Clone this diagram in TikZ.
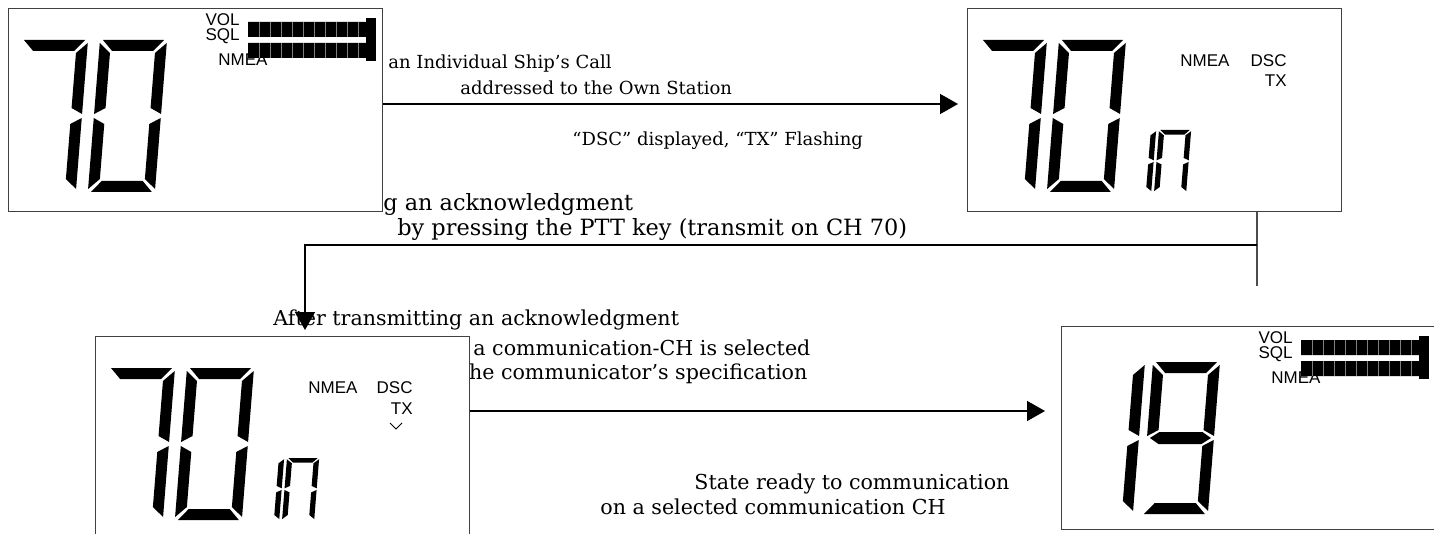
\documentclass[tikz,border=0pt]{standalone}
\usepackage{fontspec}
\setmainfont{DejaVu Serif}
\newfontfamily\lcdfont{Liberation Sans}
\usetikzlibrary{arrows.meta,positioning,calc}

% segments of one LCD digit, 67 x 152 units, y downwards
\newcommand{\segA}{\fill (3,0)--(64,0)--(54,11)--(13,11)--cycle;}
\newcommand{\segB}{\fill (67,3)--(67,74)--(56,68)--(56,13)--cycle;}
\newcommand{\segC}{\fill (67,78)--(67,149)--(56,139)--(56,84)--cycle;}
\newcommand{\segD}{\fill (3,152)--(13,141)--(54,141)--(64,152)--cycle;}
\newcommand{\segE}{\fill (0,78)--(11,84)--(11,139)--(0,149)--cycle;}
\newcommand{\segF}{\fill (0,3)--(11,13)--(11,68)--(0,74)--cycle;}
\newcommand{\segG}{\fill (3,76)--(12,70)--(55,70)--(64,76)--(55,82)--(12,82)--cycle;}
\newcommand{\lcddigit}[3][]{\begin{scope}[shift={#2},xslant=0.08,#1]#3\end{scope}}

% VOL / SQL level bars of a panel
\newcommand{\lcdbars}[1]{%
  \node[lcd,anchor=east] (#1vol) at (232,11.5) {VOL};
  \node[lcd,anchor=east] (#1sql) at (232,28.5) {SQL};
  \node[lcd,anchor=west] (#1nmea) at (210,52) {NMEA};
  \fill (240,14) rectangle (360,29) (240,35) rectangle (360,50);
  \fill (358,10) rectangle (368,53);
  \foreach \x in {251,262,...,350} {\draw[cell] (\x,14)--(\x,29) (\x,35)--(\x,50);}
}

\begin{document}
\begin{tikzpicture}[x=0.5pt,y=-0.5pt,>={Triangle[length=9pt,width=10pt]},
  panel/.style={draw=black!75,fill=white,line width=0.6pt,minimum width=187pt,minimum height=101.5pt,inner sep=0pt,anchor=north west},
  note/.style={font=\fontsize{9}{11}\selectfont,inner sep=0pt,anchor=base west},
  bignote/.style={note,font=\fontsize{11.2}{13}\selectfont},
  midnote/.style={note,font=\fontsize{10.3}{12}\selectfont},
  lcd/.style={font=\lcdfont\fontsize{8.5}{10}\selectfont,inner sep=0pt},
  small/.style={xscale=0.48,yscale=0.41},
  cell/.style={draw=gray,line width=0.3pt},
  link/.style={line width=0.75pt}]
\useasboundingbox (0,0) rectangle (1434,534);

% texts, some of them partly hidden behind the panels
\node[note] (t1) at (388,69) {an Individual Ship's Call};
\node[note] (t2) at (460,95) {addressed to the Own Station};
\node[note] (t3) at (572,146) {“DSC” displayed, “TX” Flashing};
\node[bignote] (t4) at (250,211) {Transmitting an acknowledgment};
\node[bignote] (t5) at (397,235) {by pressing the PTT key (transmit on CH 70)};
\node[midnote] (t6) at (273,325) {After transmitting an acknowledgment};
\node[midnote] (t7) at (473,355) {a communication-CH is selected};
\node[midnote] (t8) at (429,379) {by the communicator's specification};
\node[midnote] (t9) at (694,489) {State ready to communication};
\node[midnote] (t10) at (600,514) {on a selected communication CH};

% panels
\node[panel] (p1) at (8,8) {};
\node[panel] (p2) at (967,8) {};
\node[panel] (p3) at (95,336) {};
\node[panel] (p4) at (1061,326) {};

\begin{scope}[shift={(p1.north west)}]
  \lcdbars{p1}
  \lcddigit{(13,32)}{\segA\segB\segC}
  \lcddigit{(92,32)}{\segA\segB\segC\segD\segE\segF}
\end{scope}

\begin{scope}[shift={(p2.north west)}]
  \node[lcd,anchor=west] (p2nmea) at (213,53) {NMEA};
  \node[lcd,anchor=east] (p2dsc) at (320,53) {DSC};
  \node[lcd,anchor=east] (p2tx) at (320,73) {TX};
  \lcddigit{(13,32)}{\segA\segB\segC}
  \lcddigit{(92,32)}{\segA\segB\segC\segD\segE\segF}
  \lcddigit[small]{(157,122)}{\segB\segC}
  \lcddigit[small]{(192,122)}{\segA\segB\segC\segE\segF}
\end{scope}

\begin{scope}[shift={(p3.north west)}]
  \node[lcd,anchor=west] (p3nmea) at (213,52) {NMEA};
  \node[lcd,anchor=east] (p3dsc) at (318,52) {DSC};
  \node[lcd,anchor=east] (p3tx) at (318,73) {TX};
  \draw[line width=0.5pt] (295,87) -- (301,93) -- (307,87);
  \lcddigit{(13,32)}{\segA\segB\segC}
  \lcddigit{(92,32)}{\segA\segB\segC\segD\segE\segF}
  \lcddigit[small]{(157,122)}{\segB\segC}
  \lcddigit[small]{(192,122)}{\segA\segB\segC\segE\segF}
\end{scope}

\begin{scope}[shift={(p4.north west)}]
  \lcdbars{p4}
  \lcddigit{(17,36)}{\segB\segC}
  \lcddigit{(92,36)}{\segA\segB\segC\segD\segF\segG}
\end{scope}

% connectors
\coordinate (a1) at ($(p1.north east)+(0,96)$);
\coordinate (a2) at ($(p2.north west)+(0,96)$);
\coordinate (k1) at ($(p2.south west)+(290,0)$);
\coordinate (k2) at ($(k1)+(0,33)$);
\coordinate (k3) at ($(p3.north west)+(210,0)$);
\coordinate (b1) at ($(p3.north east)+(0,75)$);
\coordinate (b2) at ($(p4.north west)+(0,85)$);
\draw[link,->,shorten >=4.5pt] (a1) -- (a2);
\draw[black!70,line width=1pt] (k1) -- ++(0,74);
\draw[link,->,shorten >=3pt] (k2) -| (k3);
\draw[link,->,shorten >=8pt] (b1) -- (b2);
\end{tikzpicture}
\end{document}
